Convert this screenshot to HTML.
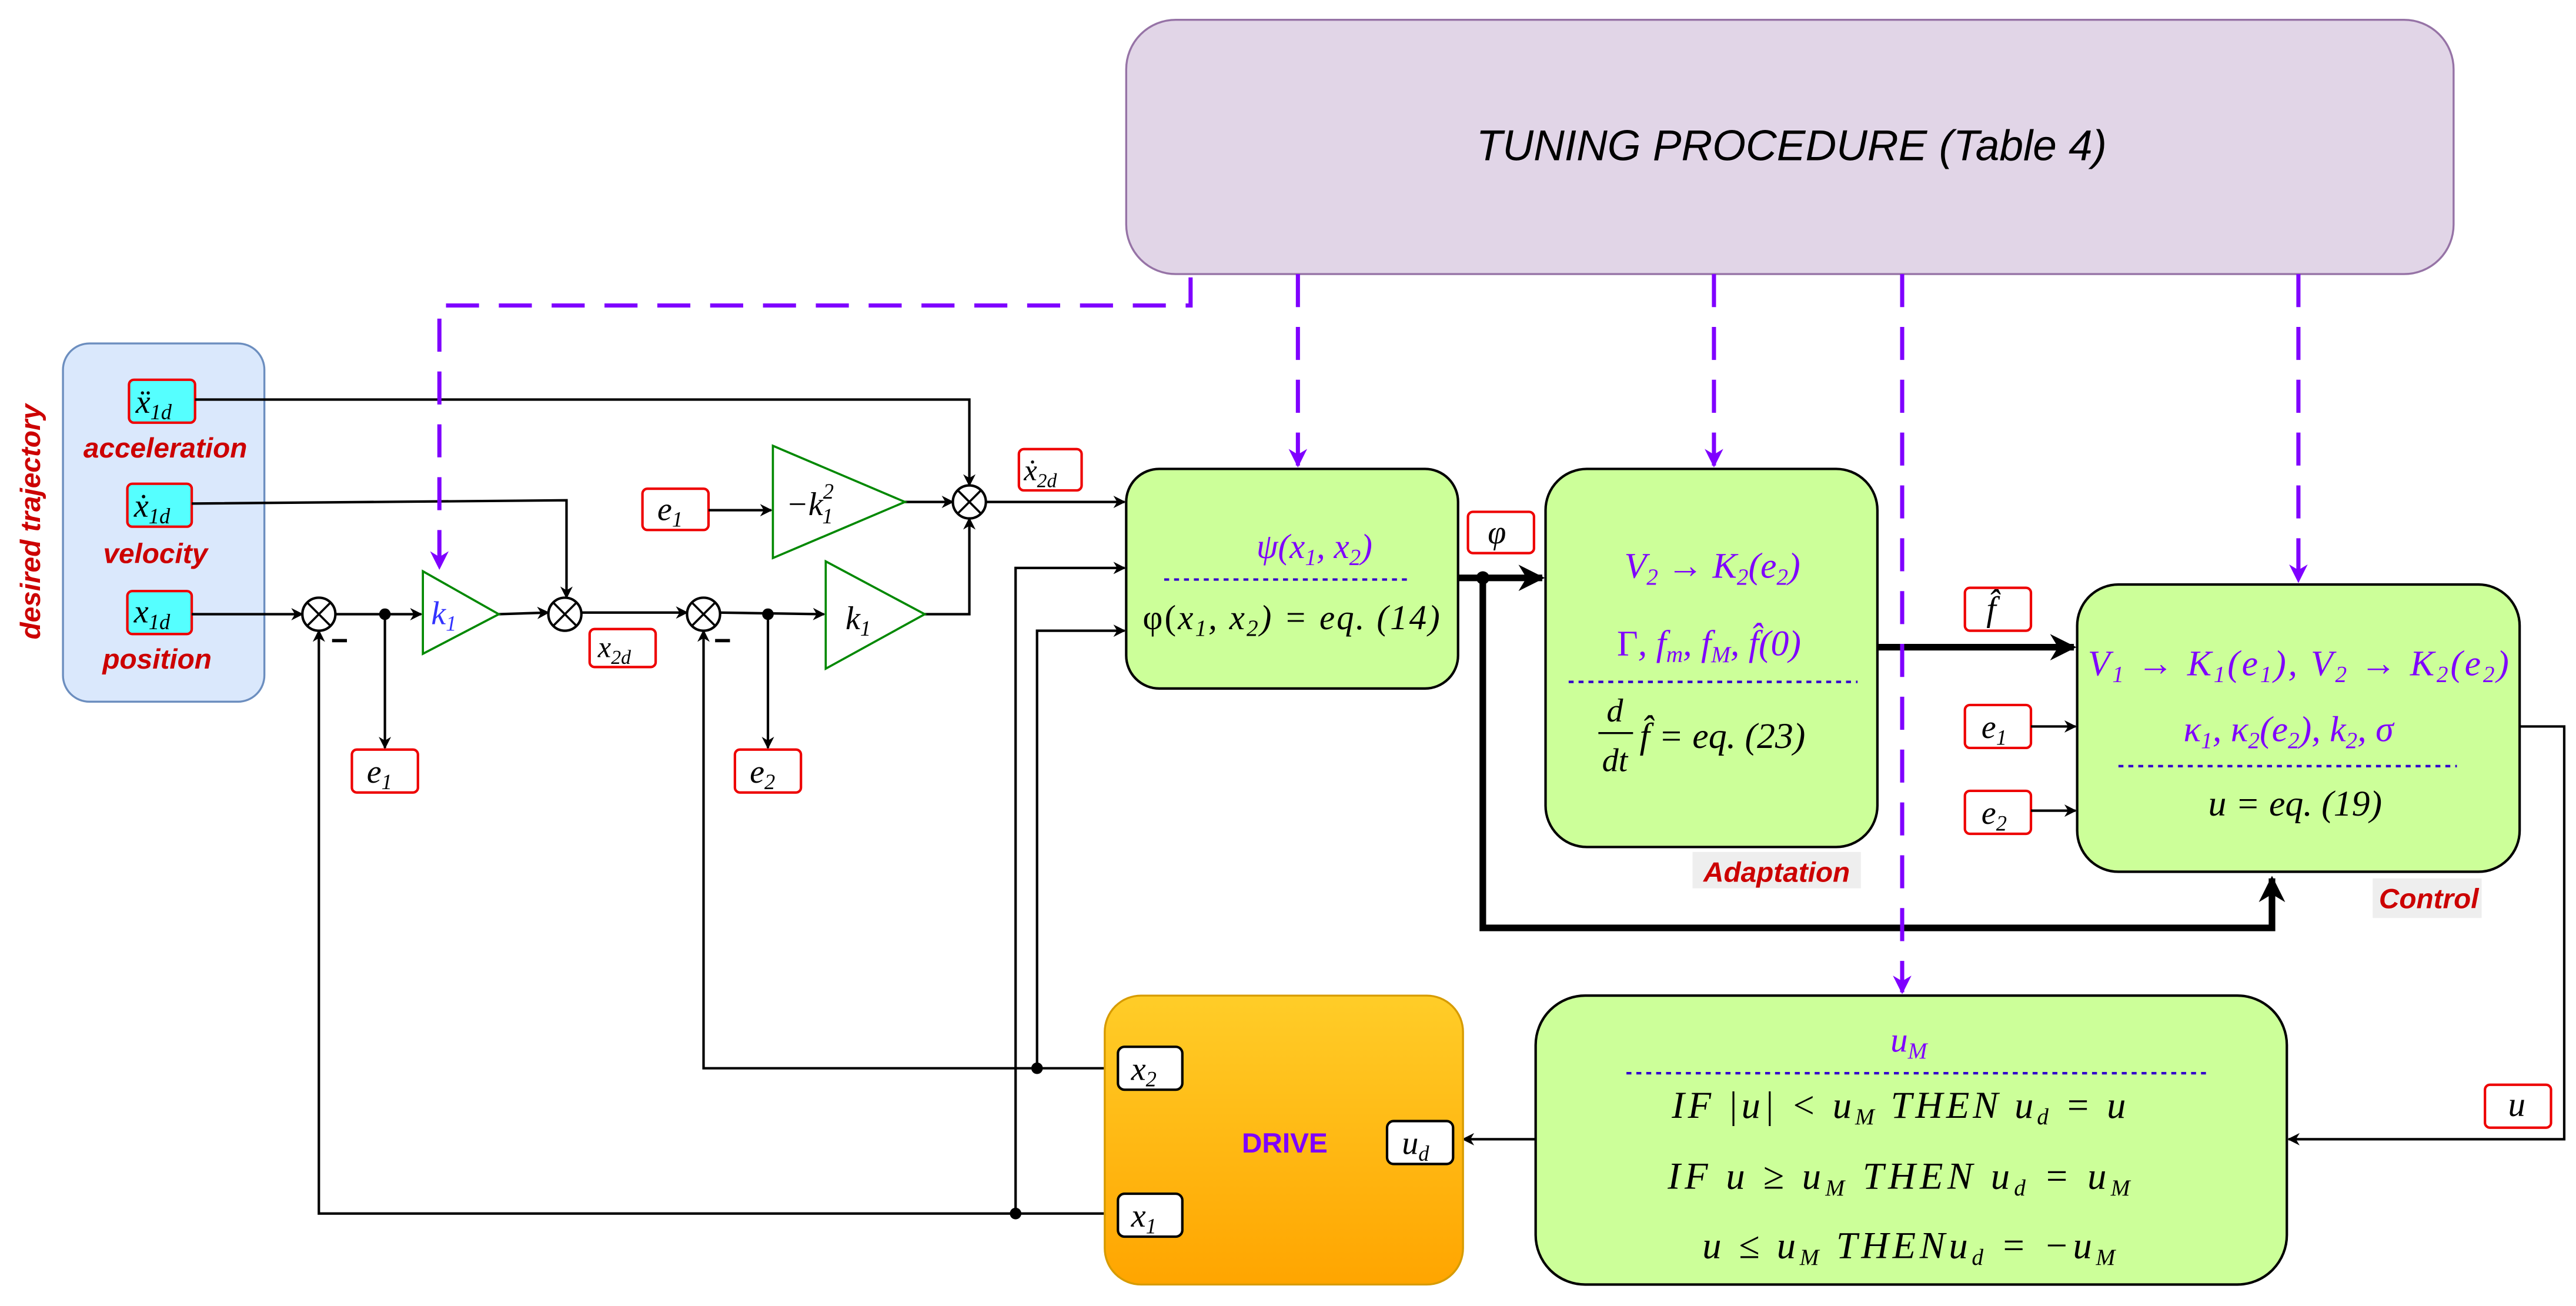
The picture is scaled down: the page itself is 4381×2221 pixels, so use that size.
<!DOCTYPE html>
<html><head><meta charset="utf-8"><style>
html,body{margin:0;padding:0;background:#fff}
svg{display:block}
.m{font-family:"Liberation Serif",serif;font-style:italic}
.mp{font-family:"Liberation Serif",serif;font-style:italic;fill:#7f00ff}
.lab{font-family:"Liberation Sans",sans-serif;font-weight:bold;font-style:italic;fill:#cc0000}
</style></head><body>
<svg width="4381" height="2221" viewBox="0 0 1560 791" xmlns="http://www.w3.org/2000/svg">
<defs>
<marker id="a" viewBox="0 0 10 10" refX="9" refY="5" markerWidth="5" markerHeight="5" orient="auto-start-reverse"><path d="M0,0 L10,5 L0,10 L3,5 Z" fill="#000"/></marker>
<marker id="ab" viewBox="0 0 10 10" refX="9" refY="5" markerWidth="4" markerHeight="4" orient="auto"><path d="M0,0 L10,5 L0,10 L3,5 Z" fill="#000"/></marker>
<marker id="ap" viewBox="0 0 10 10" refX="9" refY="5" markerWidth="4.5" markerHeight="4.5" orient="auto"><path d="M0,0 L10,5 L0,10 L3,5 Z" fill="#7f00ff"/></marker>
<linearGradient id="g" x1="0" y1="0" x2="0" y2="1"><stop offset="0" stop-color="#ffcd28"/><stop offset="1" stop-color="#ffa500"/></linearGradient>
</defs>

<!-- tuning -->
<rect x="682" y="12" width="804" height="154" rx="30" fill="#e1d5e7" stroke="#9673a6" stroke-width="1.2"/>
<text x="1085" y="97" text-anchor="middle" font-family="Liberation Sans,sans-serif" font-style="italic" font-size="26">TUNING PROCEDURE (Table 4)</text>

<!-- desired trajectory -->
<rect x="38" y="208" width="122" height="217" rx="16" fill="#dae8fc" stroke="#6c8ebf" stroke-width="1.2"/>
<text class="lab" transform="translate(24,316) rotate(-90)" text-anchor="middle" font-size="17">desired trajectory</text>
<g stroke="#e00" stroke-width="1.5" fill="#5ff">
<rect x="78" y="230" width="40" height="26" rx="3"/>
<rect x="77" y="293" width="39" height="26" rx="3"/>
<rect x="77" y="358" width="39" height="26" rx="3"/>
</g>
<text class="m" x="82" y="250" font-size="20">ẍ<tspan font-size="13" dy="4">1d</tspan></text>
<text class="m" x="81" y="313" font-size="20">ẋ<tspan font-size="13" dy="4">1d</tspan></text>
<text class="m" x="81" y="377" font-size="20">x<tspan font-size="13" dy="4">1d</tspan></text>
<text class="lab" x="100" y="277" text-anchor="middle" font-size="17">acceleration</text>
<text class="lab" x="94" y="341" text-anchor="middle" font-size="17">velocity</text>
<text class="lab" x="95" y="405" text-anchor="middle" font-size="17">position</text>

<!-- red label boxes -->
<g stroke="#e00" stroke-width="1.5" fill="#fff">
<rect x="213" y="454" width="40" height="26" rx="3"/>
<rect x="445" y="454" width="40" height="26" rx="3"/>
<rect x="357" y="381" width="40" height="23" rx="3"/>
<rect x="389" y="296" width="40" height="25" rx="3"/>
<rect x="617" y="272" width="38" height="25" rx="3"/>
<rect x="889" y="310" width="40" height="25" rx="3"/>
<rect x="1190" y="356" width="40" height="26" rx="3"/>
<rect x="1190" y="427" width="40" height="26" rx="3"/>
<rect x="1190" y="479" width="40" height="26" rx="3"/>
<rect x="1505" y="657" width="40" height="26" rx="3"/>
</g>
<text class="m" x="222" y="474" font-size="20">e<tspan font-size="13" dy="4">1</tspan></text>
<text class="m" x="454" y="474" font-size="20">e<tspan font-size="13" dy="4">2</tspan></text>
<text class="m" x="362" y="398" font-size="18">x<tspan font-size="12" dy="4">2d</tspan></text>
<text class="m" x="398" y="315" font-size="20">e<tspan font-size="13" dy="4">1</tspan></text>
<text class="m" x="620" y="291" font-size="18">ẋ<tspan font-size="12" dy="4">2d</tspan></text>
<text class="m" x="901" y="329" font-size="20">φ</text>
<text class="m" x="1203" y="376" font-size="21">f̂</text>
<text class="m" x="1200" y="447" font-size="20">e<tspan font-size="13" dy="4">1</tspan></text>
<text class="m" x="1200" y="499" font-size="20">e<tspan font-size="13" dy="4">2</tspan></text>
<text class="m" x="1519" y="676" font-size="21">u</text>

<!-- wires -->
<g stroke="#000" stroke-width="1.5" fill="none">
<path d="M118,242 H587 V294" marker-end="url(#a)"/>
<path d="M116,305 L343,303 V362" marker-end="url(#a)"/>
<path d="M116,372 H183" marker-end="url(#a)"/>
<path d="M202,372 H255" marker-end="url(#a)"/>
<path d="M233,372 V453" marker-end="url(#a)"/>
<path d="M302,372 L332,371" marker-end="url(#a)"/>
<path d="M352,371 H416" marker-end="url(#a)"/>
<path d="M435,371 L499,372" marker-end="url(#a)"/>
<path d="M465,372 V453" marker-end="url(#a)"/>
<path d="M560,372 H587 V314" marker-end="url(#a)"/>
<path d="M429,309 H467" marker-end="url(#a)"/>
<path d="M548,304 H577" marker-end="url(#a)"/>
<path d="M596,304 H681" marker-end="url(#a)"/>
<path d="M615,735 V344 H681" marker-end="url(#a)"/>
<path d="M628,647 V382 H681" marker-end="url(#a)"/>
<path d="M677,647 H426 V382" marker-end="url(#a)"/>
<path d="M677,735 H193 V382" marker-end="url(#a)"/>
<path d="M1230,440 H1257" marker-end="url(#a)"/>
<path d="M1230,491 H1257" marker-end="url(#a)"/>
<path d="M1526,440 H1553 V690 H1386" marker-end="url(#a)"/>
<path d="M930,690 H886" marker-end="url(#a)"/>
</g>
<g stroke="#000" stroke-width="4" fill="none">
<path d="M883,350 H934" marker-end="url(#ab)"/>
<path d="M898,350 V562 H1376 V532" marker-end="url(#ab)"/>
<path d="M1137,392 H1256" marker-end="url(#ab)"/>
</g>
<g fill="#000"><circle cx="233" cy="372" r="3.5"/><circle cx="465" cy="372" r="3.5"/><circle cx="898" cy="350" r="4"/><circle cx="628" cy="647" r="3.5"/><circle cx="615" cy="735" r="3.5"/></g>

<!-- sums -->
<g stroke="#000" stroke-width="1.5" fill="#fff">
<circle cx="193" cy="372" r="10"/><circle cx="342" cy="372" r="10"/><circle cx="426" cy="372" r="10"/><circle cx="587" cy="304" r="10"/>
</g>
<g stroke="#000" stroke-width="1.3">
<path d="M186,365 L200,379 M200,365 L186,379"/><path d="M335,365 L349,379 M349,365 L335,379"/><path d="M419,365 L433,379 M433,365 L419,379"/><path d="M580,297 L594,311 M594,297 L580,311"/>
<path d="M201,388 H210 M433,388 H442" stroke-width="2"/>
</g>

<!-- gains -->
<g stroke="#080" stroke-width="1.3" fill="#fff">
<path d="M256,346 L302,372 L256,396 Z"/>
<path d="M468,270 L548,304 L468,338 Z"/>
<path d="M500,340 L560,372 L500,405 Z"/>
</g>
<text class="m" x="261" y="378" font-size="20" fill="#33f">k<tspan font-size="13" dy="4">1</tspan></text>
<text class="m" x="476" y="312" font-size="20">−k<tspan font-size="13" dy="-10">2</tspan><tspan font-size="13" dx="-7" dy="15">1</tspan></text>
<text class="m" x="512" y="381" font-size="20">k<tspan font-size="13" dy="4">1</tspan></text>

<!-- psi box -->
<rect x="682" y="284" width="201" height="133" rx="20" fill="#ccff99" stroke="#000" stroke-width="1.5"/>
<text class="mp" x="796" y="338" text-anchor="middle" font-size="21">ψ(x<tspan font-size="14" dy="4">1</tspan><tspan dy="-4">, x</tspan><tspan font-size="14" dy="4">2</tspan><tspan dy="-4">)</tspan></text>
<line x1="705" y1="351" x2="855" y2="351" stroke="#3300cc" stroke-width="1.5" stroke-dasharray="3,3"/>
<text class="m" x="782" y="381" text-anchor="middle" font-size="21" textLength="180" lengthAdjust="spacing"><tspan font-style="normal">φ(</tspan>x<tspan font-size="14" dy="4">1</tspan><tspan dy="-4">, x</tspan><tspan font-size="14" dy="4">2</tspan><tspan dy="-4">) = eq. (14)</tspan></text>

<!-- adaptation -->
<rect x="936" y="284" width="201" height="229" rx="25" fill="#ccff99" stroke="#000" stroke-width="1.5"/>
<text class="mp" x="1037" y="350" text-anchor="middle" font-size="22">V<tspan font-size="14" dy="4">2</tspan><tspan dy="-4"> → K</tspan><tspan font-size="14" dy="4">2</tspan><tspan dy="-4">(e</tspan><tspan font-size="14" dy="4">2</tspan><tspan dy="-4">)</tspan></text>
<text class="mp" x="1035" y="397" text-anchor="middle" font-size="22"><tspan font-style="normal">Γ</tspan>,  f<tspan font-size="14" dy="4">m</tspan><tspan dy="-4">,  f</tspan><tspan font-size="14" dy="4">M</tspan><tspan dy="-4">,  f̂(0)</tspan></text>
<line x1="950" y1="413" x2="1125" y2="413" stroke="#3300cc" stroke-width="1.5" stroke-dasharray="3,3"/>
<text class="m" x="978" y="437" font-size="20" text-anchor="middle">d</text>
<line x1="968" y1="444" x2="989" y2="444" stroke="#000" stroke-width="1.2"/>
<text class="m" x="978" y="467" font-size="20" text-anchor="middle">dt</text>
<text class="m" x="993" y="453" font-size="22">f̂ = eq. (23)</text>
<rect x="1025" y="516" width="102" height="22" fill="#eee"/>
<text class="lab" x="1076" y="534" text-anchor="middle" font-size="17">Adaptation</text>

<!-- control -->
<rect x="1258" y="354" width="268" height="174" rx="25" fill="#ccff99" stroke="#000" stroke-width="1.5"/>
<text class="mp" x="1392" y="409" text-anchor="middle" font-size="22" textLength="255" lengthAdjust="spacing">V<tspan font-size="14" dy="4">1</tspan><tspan dy="-4"> → K</tspan><tspan font-size="14" dy="4">1</tspan><tspan dy="-4">(e</tspan><tspan font-size="14" dy="4">1</tspan><tspan dy="-4">),  V</tspan><tspan font-size="14" dy="4">2</tspan><tspan dy="-4"> → K</tspan><tspan font-size="14" dy="4">2</tspan><tspan dy="-4">(e</tspan><tspan font-size="14" dy="4">2</tspan><tspan dy="-4">)</tspan></text>
<text class="mp" x="1386" y="449" text-anchor="middle" font-size="22">κ<tspan font-size="14" dy="4">1</tspan><tspan dy="-4">,  κ</tspan><tspan font-size="14" dy="4">2</tspan><tspan dy="-4">(e</tspan><tspan font-size="14" dy="4">2</tspan><tspan dy="-4">),  k</tspan><tspan font-size="14" dy="4">2</tspan><tspan dy="-4">,  σ</tspan></text>
<line x1="1283" y1="464" x2="1488" y2="464" stroke="#3300cc" stroke-width="1.5" stroke-dasharray="3,3"/>
<text class="m" x="1390" y="494" text-anchor="middle" font-size="22">u = eq. (19)</text>
<rect x="1437" y="532" width="66" height="24" fill="#eee"/>
<text class="lab" x="1471" y="550" text-anchor="middle" font-size="17">Control</text>

<!-- saturation -->
<rect x="930" y="603" width="455" height="175" rx="30" fill="#ccff99" stroke="#000" stroke-width="1.5"/>
<text class="mp" x="1156" y="637" text-anchor="middle" font-size="21">u<tspan font-size="14" dy="4">M</tspan></text>
<line x1="985" y1="650" x2="1338" y2="650" stroke="#3300cc" stroke-width="1.5" stroke-dasharray="3,3"/>
<text class="m" x="1150" y="677" text-anchor="middle" font-size="23" textLength="275" lengthAdjust="spacing">IF |u| &lt; u<tspan font-size="14" dy="4">M</tspan><tspan dy="-4"> THEN u</tspan><tspan font-size="14" dy="4">d</tspan><tspan dy="-4"> = u</tspan></text>
<text class="m" x="1150" y="720" text-anchor="middle" font-size="23" textLength="280" lengthAdjust="spacing">IF u ≥ u<tspan font-size="14" dy="4">M</tspan><tspan dy="-4"> THEN u</tspan><tspan font-size="14" dy="4">d</tspan><tspan dy="-4"> = u</tspan><tspan font-size="14" dy="4">M</tspan></text>
<text class="m" x="1156" y="762" text-anchor="middle" font-size="23" textLength="250" lengthAdjust="spacing">u ≤ u<tspan font-size="14" dy="4">M</tspan><tspan dy="-4"> THENu</tspan><tspan font-size="14" dy="4">d</tspan><tspan dy="-4"> = −u</tspan><tspan font-size="14" dy="4">M</tspan></text>

<!-- drive -->
<rect x="669" y="603" width="217" height="175" rx="22" fill="url(#g)" stroke="#d79b00" stroke-width="1.2"/>
<text x="778" y="698" text-anchor="middle" font-family="Liberation Sans,sans-serif" font-weight="bold" font-size="17" fill="#7f00ff">DRIVE</text>
<g stroke="#000" stroke-width="1.5" fill="#fff">
<rect x="677" y="634" width="39" height="26" rx="4"/>
<rect x="840" y="679" width="40" height="26" rx="4"/>
<rect x="677" y="723" width="39" height="26" rx="4"/>
</g>
<text class="m" x="685" y="654" font-size="20">x<tspan font-size="13" dy="4">2</tspan></text>
<text class="m" x="849" y="699" font-size="20">u<tspan font-size="13" dy="4">d</tspan></text>
<text class="m" x="685" y="743" font-size="20">x<tspan font-size="13" dy="4">1</tspan></text>

<!-- purple dashed -->
<g stroke="#7f00ff" stroke-width="2.5" fill="none" stroke-dasharray="20,12">
<path d="M721,168 V185 H266 V344" marker-end="url(#ap)"/>
<path d="M786,166 V282" marker-end="url(#ap)"/>
<path d="M1038,166 V282" marker-end="url(#ap)"/>
<path d="M1152,166 V601" marker-end="url(#ap)"/>
<path d="M1392,166 V352" marker-end="url(#ap)"/>
</g>
</svg>
</body></html>
